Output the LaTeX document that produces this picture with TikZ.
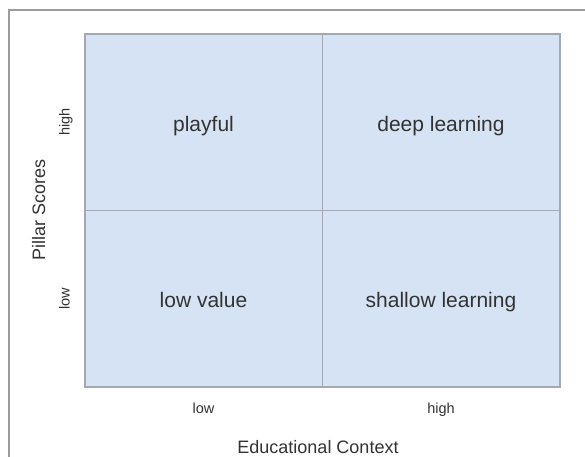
\documentclass[tikz,border=0pt]{standalone}
\usepackage{fontspec}
\setmainfont{Liberation Sans}
\definecolor{cellblue}{HTML}{D6E3F4}
\definecolor{gridgray}{HTML}{A3A9B2}
\definecolor{framegray}{HTML}{9C9C9C}
\definecolor{txtgray}{HTML}{333333}
\begin{document}
\begin{tikzpicture}[x=1pt,y=-1pt,
    quad/.style={anchor=base,text=txtgray,font=\fontsize{21}{25}\selectfont},
    tick/.style={anchor=base,text=txtgray,font=\fontsize{14.5}{17}\selectfont},
    axis/.style={anchor=base,text=txtgray,font=\fontsize{18}{21}\selectfont}]
                \useasboundingbox (0,0) rectangle (585,456);
                \fill [white] (0,0) rectangle (585,456);
                \draw [framegray,line width=1.3pt] (9,470) -- (9,10) -- (600,10);
                \draw [gridgray,fill=cellblue,line width=1.3pt] (85,34) rectangle (560,387);
                \draw [gridgray,line width=1.2pt] (322.5,34) -- (322.5,387);
                \draw [gridgray,line width=1.2pt] (85,210.5) -- (560,210.5);
                \node [quad] (playful) at (203.5,131) {playful};
                \node [quad] (deep) at (441,131) {deep learning};
                \node [quad] (lowval) at (203.5,307) {low value};
                \node [quad] (shallow) at (441,307) {shallow learning};
                \node [tick] (xlow) at (203.5,413) {low};
                \node [tick] (xhigh) at (441,413) {high};
                \node [axis] (xlabel) at (318,453) {Educational Context};
                \node [tick,rotate=90] (yhigh) at (69.5,122) {high};
                \node [tick,rotate=90] (ylow) at (69.5,298.5) {low};
                \node [axis,rotate=90] (ylabel) at (45,210) {Pillar Scores};
            \end{tikzpicture}
\end{document}
